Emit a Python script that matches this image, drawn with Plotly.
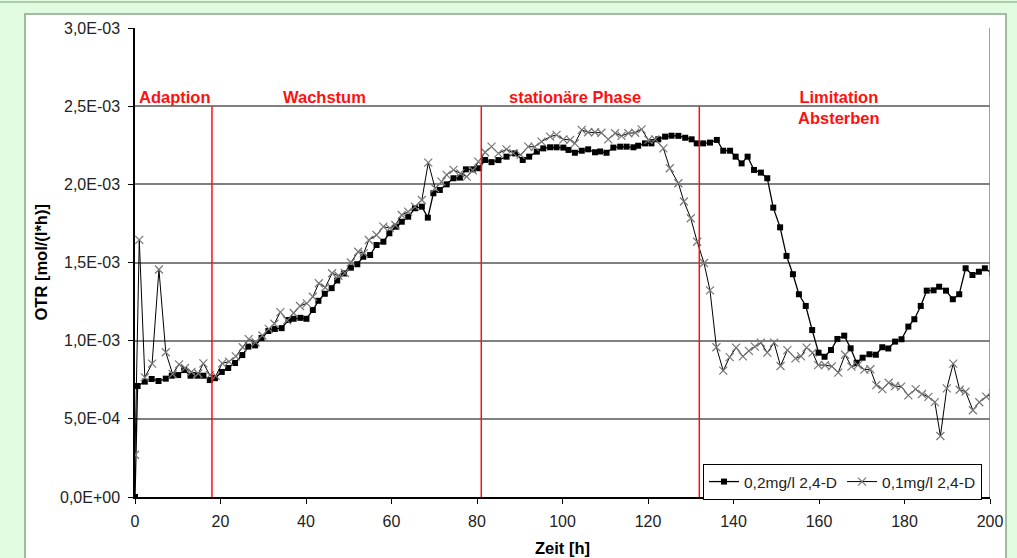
import numpy as np
import plotly.graph_objects as go

# ---------------- data (OTR in 1E-03 mol/(l*h)) ----------------
t_02 = [0, 0.6, 2.3, 3.9, 5.5, 7.2, 8.6, 10.1, 11.5, 13.0, 14.6, 16.0, 17.5, 18.7, 20.3, 21.8, 23.4, 25.1,
        26.5, 28.1, 29.6, 31.2, 32.7, 34.3, 35.9, 37.1, 38.7, 40.1, 41.6, 42.9, 44.4, 46.0, 47.3, 48.9,
        50.5, 52.0, 53.4, 55.0, 56.5, 58.1, 59.5, 61.1, 62.4, 63.9, 65.5, 67.1, 68.5, 69.8, 71.3, 72.9,
        74.5, 76.0, 77.4, 79.0, 80.5, 81.9, 83.4, 85.0, 86.9, 88.9, 90.7, 92.2, 94.0, 95.5, 97.1, 98.6,
        100.2, 101.4, 102.9, 104.5, 106.0, 107.6, 108.8, 110.3, 111.9, 113.5, 115.0, 116.6, 117.7, 119.3,
        120.8, 122.4, 124.0, 125.5, 127.1, 128.7, 130.2, 131.4, 132.9, 134.5, 136.1, 137.6, 139.2, 140.5,
        141.9, 143.3, 144.8, 146.4, 147.9, 149.3, 150.9, 152.4, 153.9, 155.3, 156.9, 158.4, 159.9, 161.3,
        162.8, 164.3, 165.9, 167.4, 168.8, 170.2, 171.8, 173.3, 174.8, 176.2, 177.8, 179.3, 180.9, 182.3,
        183.8, 185.2, 186.8, 188.1, 189.7, 191.3, 192.8, 194.3, 195.9, 197.4, 198.8, 200.5]
otr_02 = [0, 0.71, 0.738, 0.755, 0.742, 0.757, 0.776, 0.78, 0.812, 0.776, 0.776, 0.776, 0.748, 0.76, 0.80,
          0.825, 0.857, 0.908, 0.962, 0.97, 1.017, 1.062, 1.075, 1.08, 1.132, 1.14, 1.146, 1.14, 1.196,
          1.255, 1.30, 1.336, 1.385, 1.43, 1.467, 1.489, 1.537, 1.548, 1.612, 1.633, 1.687, 1.729, 1.761,
          1.793, 1.847, 1.857, 1.787, 1.943, 1.964, 2.0, 2.039, 2.043, 2.096, 2.096, 2.103, 2.156, 2.142,
          2.155, 2.177, 2.198, 2.156, 2.177, 2.209, 2.23, 2.237, 2.237, 2.235, 2.22, 2.202, 2.215, 2.224,
          2.205, 2.21, 2.202, 2.235, 2.241, 2.241, 2.237, 2.247, 2.262, 2.262, 2.288, 2.305, 2.311, 2.31,
          2.298, 2.288, 2.262, 2.262, 2.267, 2.284, 2.215, 2.215, 2.177, 2.134, 2.177, 2.092, 2.075, 2.039,
          1.851, 1.725, 1.542, 1.425, 1.297, 1.222, 1.068, 0.923, 0.897, 0.94, 1.011, 1.032, 0.951, 0.859,
          0.891, 0.913, 0.91, 0.958, 0.95, 0.994, 1.009, 1.09, 1.137, 1.222, 1.32, 1.322, 1.345, 1.32,
          1.265, 1.297, 1.463, 1.42, 1.441, 1.463, 1.43]

t_01 = [0, 1.0, 2.3, 4.0, 5.6, 7.2, 8.8, 10.3, 11.7, 13.2, 14.8, 16.0, 17.5, 18.9, 20.4, 22.0, 23.6, 25.2,
        26.6, 28.2, 29.8, 31.3, 32.6, 34.0, 35.6, 37.1, 38.6, 40.2, 41.6, 43.0, 44.5, 46.1, 47.6, 49.1,
        50.5, 52.2, 53.5, 54.7, 56.5, 58.1, 59.6, 60.9, 62.4, 63.9, 65.5, 67.1, 68.6, 70.2, 71.7, 72.9,
        74.5, 76.1, 77.6, 79.0, 80.3, 81.9, 83.4, 85.0, 86.9, 88.5, 90.2, 92.0, 93.5, 95.1, 97.1, 98.6,
        100.2, 101.8, 102.9, 104.5, 106.0, 107.6, 109.1, 110.7, 112.3, 113.8, 115.4, 117.0, 118.5, 120.1,
        121.7, 123.6, 125.1, 127.1, 128.4, 130.0, 131.5, 133.1, 134.5, 136.0, 137.6, 139.1, 140.6, 142.2,
        143.6, 145.0, 146.4, 147.9, 149.5, 151.0, 152.6, 154.5, 155.8, 157.1, 158.5, 159.8, 161.4, 163.0,
        164.5, 166.1, 167.6, 169.1, 170.6, 172.0, 173.4, 174.8, 176.3, 177.8, 179.2, 180.9, 182.6, 184.1,
        185.6, 187.1, 188.4, 189.9, 191.4, 192.9, 194.3, 196.0, 197.5, 199.1, 200.7]
otr_01 = [0.27, 1.645, 0.765, 0.853, 1.455, 0.926, 0.787, 0.848, 0.825, 0.80, 0.79, 0.855, 0.78, 0.775,
          0.855, 0.866, 0.90, 0.958, 1.01, 0.99, 1.033, 1.075, 1.108, 1.183, 1.13, 1.177, 1.222, 1.239,
          1.281, 1.367, 1.34, 1.431, 1.415, 1.433, 1.50, 1.569, 1.559, 1.644, 1.676, 1.729, 1.72, 1.74,
          1.804, 1.825, 1.857, 1.90, 2.139, 1.975, 2.017, 2.06, 2.092, 2.07, 2.049, 2.09, 2.145, 2.205,
          2.241, 2.198, 2.224, 2.20, 2.188, 2.241, 2.24, 2.273, 2.305, 2.316, 2.288, 2.284, 2.262, 2.348,
          2.333, 2.333, 2.33, 2.288, 2.327, 2.31, 2.327, 2.33, 2.352, 2.284, 2.288, 2.23, 2.103, 2.007,
          1.89, 1.783, 1.633, 1.497, 1.322, 0.958, 0.808, 0.895, 0.955, 0.90, 0.935, 0.962, 0.987, 0.923,
          0.987, 0.838, 0.94, 0.887, 0.90, 0.955, 0.923, 0.844, 0.844, 0.836, 0.796, 0.91, 0.834, 0.844,
          0.815, 0.817, 0.716, 0.69, 0.731, 0.71, 0.706, 0.65, 0.69, 0.659, 0.64, 0.607, 0.39, 0.695,
          0.853, 0.686, 0.674, 0.555, 0.606, 0.642, 0.662]

series_names = ["0,2mg/l 2,4-D", "0,1mg/l 2,4-D"]

phase_bounds = [18, 81, 132]
phase_labels = ["Adaption", "Wachstum", "stationäre Phase", "Limitation<br>Absterben"]
phase_label_x = [9.3, 44.4, 103.0, 164.7]

x_ticks = [0, 20, 40, 60, 80, 100, 120, 140, 160, 180, 200]
y_tickvals = [0, 0.0005, 0.001, 0.0015, 0.002, 0.0025, 0.003]
y_ticktext = ["0,0E+00", "5,0E-04", "1,0E-03", "1,5E-03", "2,0E-03", "2,5E-03", "3,0E-03"]

# ---------------- figure ----------------
W, H = 1017, 558
L, R, T, B = 135, 27, 28, 61
pw, ph = W - L - R, H - T - B


def px_x(p):
    return (p - L) / pw


def px_y(p):
    return (H - B - p) / ph


FONT = "Liberation Sans, Arial, sans-serif"

fig = go.Figure()
fig.add_trace(go.Scatter(
    x=t_02, y=np.array(otr_02) * 1e-3, name=series_names[0], mode="lines+markers",
    line=dict(color="black", width=1.3),
    marker=dict(symbol="square", size=6, color="black"),
))
fig.add_trace(go.Scatter(
    x=t_01, y=np.array(otr_01) * 1e-3, name=series_names[1], mode="lines+markers",
    line=dict(color="black", width=1),
    marker=dict(symbol="x-thin", size=8, color="#777777", line=dict(color="#777777", width=1.2)),
))

shapes = []
# white panel with border
shapes.append(dict(type="rect", xref="paper", yref="paper", x0=px_x(25), x1=px_x(1006), y0=px_y(575), y1=px_y(14),
                   fillcolor="white", line=dict(color="#86a886", width=1.5), layer="below"))
# outer frame top line
shapes.append(dict(type="line", xref="paper", yref="paper", x0=px_x(0), x1=px_x(1017), y0=px_y(2), y1=px_y(2),
                   line=dict(color="#9cbc9c", width=1.5), layer="below"))
# right border of plot area
shapes.append(dict(type="line", xref="x", yref="y", x0=200, x1=200, y0=0, y1=0.003,
                   line=dict(color="#808080", width=1.5)))
for xb in phase_bounds:
    shapes.append(dict(type="line", xref="x", yref="y", x0=xb, x1=xb, y0=0, y1=0.0025,
                       line=dict(color="#ff1010", width=1.5)))

annotations = []
for lx, lab in zip(phase_label_x, phase_labels):
    annotations.append(dict(x=lx, y=px_y(86), xref="x", yref="paper", text=lab, showarrow=False,
                            xanchor="center", yanchor="top", align="center",
                            font=dict(family=FONT, size=16.5, color="#ff1010", weight="bold")))
annotations.append(dict(x=px_x(40), y=0.5, xref="paper", yref="paper", text="OTR [mol/(l*h)]",
                        textangle=-90, showarrow=False, xanchor="center", yanchor="middle",
                        font=dict(family=FONT, size=16.5, color="black", weight="bold")))
annotations.append(dict(x=0.5, y=px_y(548), xref="paper", yref="paper", text="Zeit [h]",
                        showarrow=False, xanchor="center", yanchor="middle",
                        font=dict(family=FONT, size=16.5, color="black", weight="bold")))

fig.update_layout(
    width=W, height=H,
    margin=dict(l=L, r=R, t=T, b=B),
    paper_bgcolor="#e0fbe0",
    plot_bgcolor="white",
    font=dict(family=FONT, size=15, color="#222222"),
    shapes=shapes,
    annotations=annotations,
    showlegend=True,
    legend=dict(orientation="h", x=px_x(703), y=px_y(464), xanchor="left", yanchor="top",
                bgcolor="white", bordercolor="black", borderwidth=1,
                font=dict(family=FONT, size=15.5, color="#222222"),
                itemwidth=30, tracegroupgap=0),
    xaxis=dict(range=[0, 200], tickvals=x_ticks, ticks="outside", ticklen=5, tickcolor="black",
               showline=True, linecolor="black", linewidth=1.5, showgrid=False, zeroline=False,
               ticklabelstandoff=4,
               tickfont=dict(family=FONT, size=16, color="#222222")),
    yaxis=dict(range=[0, 0.003], tickvals=y_tickvals, ticktext=y_ticktext, ticks="outside", ticklen=5,
               tickcolor="black", showline=True, linecolor="black", linewidth=1.5,
               showgrid=True, gridcolor="#808080", gridwidth=1.5, zeroline=False,
               ticklabelstandoff=5,
               tickfont=dict(family=FONT, size=16, color="#222222")),
)

fig.write_html("out.html", config={"displayModeBar": False},
               post_script="document.body.style.margin='0';document.body.style.overflow='hidden';")
